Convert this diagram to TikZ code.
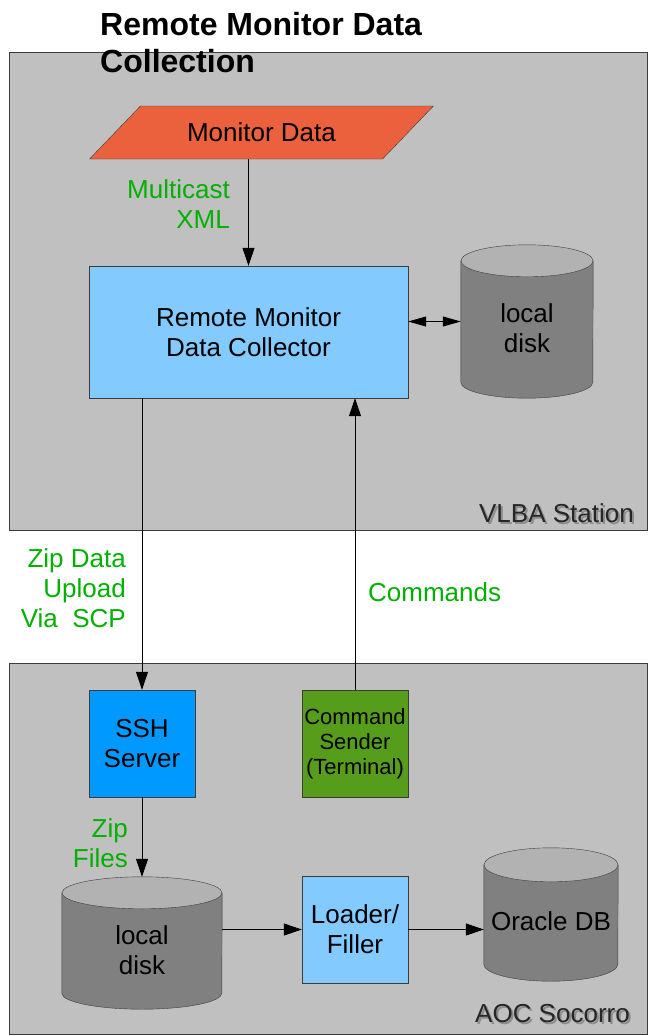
\documentclass[tikz,border=0pt]{standalone}
\usepackage{fontspec}
\setmainfont{Liberation Sans}
\usepackage{xcolor}
\usepackage{tikz}
\usetikzlibrary{arrows.meta,shapes.geometric,calc}
\pgfdeclarelayer{back}
\pgfdeclarelayer{mid}
\pgfsetlayers{back,mid,main}

\definecolor{boxgray}{RGB}{192,192,192}
\definecolor{edgegray}{RGB}{60,60,60}
\definecolor{monred}{RGB}{235,97,61}
\definecolor{lightblue}{RGB}{131,202,255}
\definecolor{sshblue}{RGB}{0,153,255}
\definecolor{cmdgreen}{RGB}{87,157,28}
\definecolor{labelgreen}{RGB}{0,176,0}
\definecolor{diskbody}{RGB}{128,128,128}
\definecolor{disktop}{RGB}{178,178,178}

\begin{document}
\begin{tikzpicture}[x=1pt,y=-1pt,
    every node/.style={font=\fontsize{26}{30}\selectfont},
    proc/.style={draw=edgegray,rectangle,align=center,inner sep=0pt},
    disk/.style={rectangle,inner sep=0pt,label={[align=center,yshift=-7pt]center:#1}},
    lbl/.style={text=labelgreen,align=right,inner sep=0pt},
    site/.style={anchor=base east,inner sep=0pt,text=black!85},
    flow/.style={-{Triangle[length=18pt,width=12pt]},line width=0.8pt}]
  \useasboundingbox (0,0) rectangle (648,1036);
  % the two sites
  \begin{pgfonlayer}{back}
    \filldraw[boxgray,draw=edgegray] (9,52) rectangle (647,530);
    \filldraw[boxgray,draw=edgegray] (9,663) rectangle (647,1034);
  \end{pgfonlayer}
  \node[site,text=black!45] at (636,524) {VLBA Station};
  \node[site] (vlba) at (634,522) {VLBA Station};
  \node[site,text=black!45] at (632,1024) {AOC Socorro};
  \node[site] (aoc) at (630,1022) {AOC Socorro};
  \node[anchor=north west,inner sep=0pt,align=left,font=\bfseries\fontsize{32}{37}\selectfont]
    (title) at (100,12) {Remote Monitor Data\\Collection};

  % station side
  \node[trapezium,trapezium left angle=31.4,trapezium right angle=148.6,trapezium stretches=true,
    draw=edgegray,fill=monred,minimum width=345pt,minimum height=53pt,inner sep=0pt]
    (mon) at (261.5,132.5) {Monitor Data};
  \node[proc,fill=lightblue,minimum width=319pt,minimum height=132pt]
    (coll) at (248.5,332) {Remote Monitor\\Data Collector};
  \node[disk={local\\disk},minimum width=132pt,minimum height=153pt] (disk) at (527,321.5) {};

  % socorro side
  \node[proc,fill=sshblue,minimum width=106pt,minimum height=107pt] (ssh) at (142,743.5) {SSH\\Server};
  \node[proc,fill=cmdgreen,minimum width=106pt,minimum height=107pt,font=\fontsize{22}{25}\selectfont]
    (cmd) at (355,743.5) {Command\\Sender\\(Terminal)};
  \node[disk={local\\disk},minimum width=160pt,minimum height=132pt] (disk2) at (142,943) {};
  \node[proc,fill=lightblue,minimum width=106pt,minimum height=107pt] (loader) at (355,929.5) {Loader/\\Filler};
  \node[disk={Oracle DB},minimum width=134pt,minimum height=133pt] (oracle) at (551,914.5) {};

  % cylinders behind the disk texts
  \begin{pgfonlayer}{mid}
    \foreach \dsk/\rx/\ry in {disk/66/16,disk2/80/16,oracle/67/17}{
      \filldraw[fill=diskbody,draw=edgegray] ($(\dsk.north west)+(0,\ry)$) -- ($(\dsk.south west)+(0,-\ry)$)
        arc[start angle=180,end angle=0,x radius=\rx,y radius=\ry] -- ($(\dsk.north east)+(0,\ry)$) -- cycle;
      \filldraw[fill=disktop,draw=edgegray] ($(\dsk.north)+(0,\ry)$) ellipse[x radius=\rx,y radius=\ry];
    }
  \end{pgfonlayer}

  % labels
  \node[lbl,anchor=east] (mcast) at (230,204) {Multicast\\XML};
  \node[lbl,anchor=east] (upload) at (126,588) {Zip Data\\Upload\\Via~ SCP};
  \node[lbl,anchor=west] (cmds) at (368,592) {Commands};
  \node[lbl,anchor=east] (zip) at (128,843) {Zip\\Files};

  % connectors
  \draw[flow] (coll.north |- mon.south) -- (coll.north);
  \draw[{Triangle[length=18pt,width=10pt]}-{Triangle[length=18pt,width=10pt]},line width=0.8pt]
    (disk.west -| coll.east) -- (disk.west);
  \draw[flow] (ssh.north |- coll.south) -- (ssh.north);
  \draw[flow] (cmd.north) -- (cmd.north |- coll.south);
  \draw[flow] (ssh.south) -- (disk2.north);
  \draw[flow] (disk2.east |- loader.west) -- (loader.west);
  \draw[flow] (loader.east) -- (loader.east -| oracle.west);
\end{tikzpicture}
\end{document}
